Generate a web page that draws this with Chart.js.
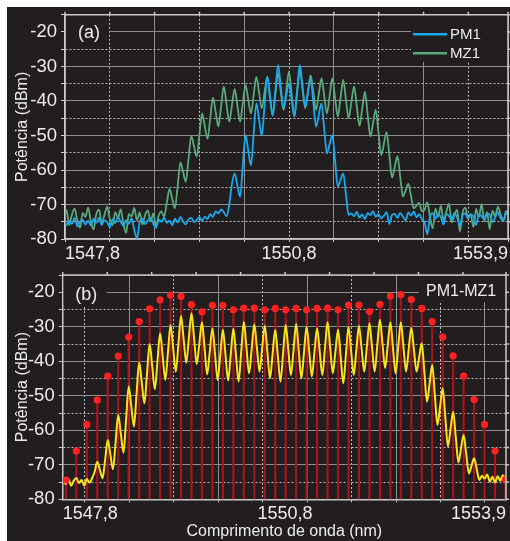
<!DOCTYPE html>
<html>
<head>
<meta charset="utf-8">
<script src="https://cdn.jsdelivr.net/npm/chart.js@4.4.1/dist/chart.umd.min.js"></script>
<style>
  html, body { margin: 0; padding: 0; background: #fff; }
  body { width: 510px; height: 541px; position: relative; overflow: hidden; }
  #panel { position: absolute; left: 7px; top: 7px; width: 503px; height: 534px; background: #221e1f; }
  canvas { position: absolute; left: 0; }
  #chart-a { top: 0; }
  #chart-b { top: 265px; }
</style>
</head>
<body>
<div id="panel"></div>
<canvas id="chart-a" width="510" height="265"></canvas>
<canvas id="chart-b" width="510" height="276"></canvas>
<script>
const FONT = "'Liberation Sans', Arial, Helvetica, sans-serif";
const BG = '#221e1f';
const TEXT = '#ececec';
const GRID_SOLID = '#8e8e8e';
const GRID_DOT = '#bdbdbd';
const FRAME = '#cacaca';

// OSA screen: start / centre / stop labels, 0.61 nm per division
const X_START = 1547.75;
const X_END_A = 1553.78;
const X_END_B = 1553.83;
const xGrid = [1547.75, 1548.36, 1548.97, 1549.58, 1550.19, 1550.80, 1551.41, 1552.02, 1552.63, 1553.24];
const xLabels = ['1547,8', '1550,8', '1553,9'];
const Y_MIN = -80;
const Y_MAX = -15;

// (a) traces, one sample every A_STEP nm starting at A_START
const A_START = 1547.6955;
const A_STEP = 0.036935;
const pm1 = [
  -75.2, -74.1, -76.0, -74.8, -75.6, -73.9, -76.3, -75.0, -74.4, -75.8,
  -74.7, -76.1, -74.2, -75.3, -73.8, -75.9, -74.6, -75.1, -76.6, -74.3,
  -75.4, -73.7, -75.0, -76.2, -74.5, -75.6, -74.0, -77.3, -79.8, -75.1,
  -74.2, -75.7, -74.6, -73.9, -75.5, -76.8, -74.4, -75.0, -73.8, -75.3,
  -74.7, -76.0, -74.1, -75.2, -73.6, -74.9, -75.8, -74.3, -73.9, -75.1,
  -74.5, -73.7, -74.8, -73.5, -74.2, -72.8, -73.6, -71.9, -72.6, -71.4,
  -72.2, -73.4, -70.0, -64.0, -61.0, -64.5, -67.8, -58.8, -49.9, -54.3,
  -58.6, -49.6, -40.7, -45.4, -50.0, -41.5, -32.9, -38.6, -44.3, -37.0,
  -29.6, -35.9, -42.1, -38.5, -34.9, -39.7, -44.5, -37.0, -29.6, -35.6,
  -41.6, -37.6, -33.5, -40.5, -47.4, -44.0, -40.7, -48.0, -55.2, -52.5,
  -49.9, -57.3, -64.8, -62.9, -61.0, -67.0, -73.0,
  -72.6, -73.4, -72.1, -73.8, -72.9, -74.2, -72.5, -73.1, -71.9, -73.6,
  -72.8, -74.0, -73.3, -72.2, -75.6, -73.0, -72.7, -73.9, -72.4, -73.5,
  -74.6, -72.3, -73.2, -72.0, -73.7, -72.8, -74.3, -75.2, -78.6, -73.4,
  -72.5, -74.1, -72.9, -73.6, -75.8, -72.7, -73.3, -74.5, -72.4, -73.8,
  -76.2, -73.1, -72.6, -74.0, -72.9, -73.5, -75.9, -72.8, -73.4, -74.3,
  -72.5, -73.0, -75.1, -73.7, -72.2, -73.9, -74.8, -72.6, -73.2,
];
const mz1 = [
  -72.5, -74.8, -71.6, -75.9, -73.0, -71.2, -74.5, -76.8, -72.4, -73.6,
  -70.9, -74.9, -77.2, -72.8, -71.5, -75.3, -73.1, -70.6, -74.2, -76.0,
  -72.2, -73.9, -71.4, -75.6, -78.2, -72.7, -73.5, -71.0, -74.6, -72.3,
  -75.8, -73.0, -71.7, -74.9, -72.6, -76.3, -73.2, -72.0,
  -73.5, -69.5, -65.5, -68.3, -71.1, -64.5, -57.8, -60.6, -63.4, -56.8,
  -50.1, -53.1, -56.1, -49.9, -43.6, -47.3, -51.0, -45.0, -39.0, -43.2,
  -47.4, -41.6, -35.8, -40.9, -46.0, -41.3, -36.5, -41.3, -46.0, -40.7,
  -35.4, -39.5, -43.6, -38.3, -33.0, -37.6, -42.1, -37.6, -33.0, -38.6,
  -44.1, -38.1, -32.0, -37.3, -42.6, -37.1, -31.5, -38.0, -44.5, -37.8,
  -31.0, -36.6, -42.1, -37.3, -32.5, -37.6, -42.6, -38.0, -33.4, -38.5,
  -43.6, -38.5, -33.4, -39.0, -44.5, -39.2, -33.9, -39.5, -45.0, -40.4,
  -35.8, -41.5, -47.2, -42.3, -37.3, -43.8, -50.3, -46.4, -42.5, -49.1,
  -55.7, -52.4, -49.0, -55.6, -62.2, -59.1, -56.0, -61.9, -67.7, -65.9,
  -64.0, -67.6, -71.1, -70.3, -69.5, -72.0,
  -71.5, -69.4, -73.8, -76.9, -71.2, -73.5, -70.4, -74.6, -72.1, -69.8,
  -75.2, -73.0, -71.6, -77.8, -72.4, -70.9, -74.1, -72.8, -76.5, -71.3,
  -73.6, -69.9, -74.8, -72.2, -77.2, -71.8, -73.4, -70.6, -72.9, -74.7,
  -71.9, -72.5,
];

// (b) combined trace, one sample every B_STEP nm starting at B_START
const B_START = 1547.7578;
const B_STEP = 0.03589;
const pm1mz1 = [
  -74.8, -75.6, -74.2, -76.1, -74.6, -73.8, -75.3, -74.4, -76.0, -74.1,
  -75.2, -73.9, -72.0, -69.1, -71.5, -73.9, -68.5, -62.8, -67.0, -71.3,
  -63.5, -55.6, -61.0, -66.5, -57.0, -47.3, -53.1, -58.9, -49.6, -40.3,
  -46.2, -52.2, -43.6, -35.0, -41.5, -48.1, -40.0, -31.9, -38.6, -45.4,
  -37.5, -29.5, -36.2, -43.0, -35.0, -26.9, -33.6, -40.4, -33.2, -26.1,
  -33.5, -40.8, -34.8, -28.7, -36.2, -43.8, -37.1, -30.4, -37.9, -45.4,
  -38.2, -30.9, -38.2, -45.6, -38.1, -30.6, -38.2, -45.9, -37.3, -28.6,
  -36.0, -43.5, -36.4, -29.3, -36.1, -43.0, -36.3, -29.7, -37.3, -44.9,
  -37.9, -30.9, -38.4, -45.9, -37.7, -29.5, -36.7, -44.0, -36.6, -29.2,
  -37.0, -44.9, -37.4, -30.0, -37.2, -44.4, -37.2, -30.4, -37.2, -44.0,
  -36.3, -28.7, -36.1, -43.5, -37.2, -30.9, -38.6, -46.4, -38.2, -30.0,
  -37.0, -44.0, -36.8, -29.7, -36.3, -43.0, -36.0, -29.0, -36.0, -43.0,
  -35.5, -28.0, -35.0, -42.0, -35.3, -28.7, -36.1, -43.5, -35.9, -28.7,
  -35.8, -43.0, -36.6, -30.2, -36.6, -43.0, -38.9, -34.8, -43.2, -51.7,
  -46.4, -41.1, -49.8, -58.5, -53.1, -47.8, -56.2, -64.7, -59.6, -54.6,
  -62.0, -69.3, -65.3, -61.4, -67.0, -72.5, -70.3, -68.1, -71.2, -74.4,
  -73.2, -74.0, -72.8, -74.9, -73.5, -75.1, -73.3, -74.6, -73.0, -74.2,
];

// (b) comb lines: wavelength (nm) and peak power (dBm)
const combWavelengths = [
  1547.794, 1547.937, 1548.081, 1548.224, 1548.368, 1548.512, 1548.655, 1548.799, 1548.942, 1549.086,
  1549.229, 1549.373, 1549.516, 1549.660, 1549.804, 1549.947, 1550.091, 1550.234, 1550.378, 1550.521,
  1550.665, 1550.808, 1550.952, 1551.096, 1551.239, 1551.383, 1551.526, 1551.670, 1551.813, 1551.957,
  1552.101, 1552.244, 1552.388, 1552.531, 1552.675, 1552.818, 1552.962, 1553.105, 1553.249, 1553.393,
  1553.536, 1553.680, 1553.823,
];
const combPowers = [
  -74.4, -66.0, -58.3, -51.2, -44.3, -38.5, -33.0, -28.5, -24.8, -22.2,
  -20.8, -21.2, -23.6, -25.7, -23.8, -23.8, -25.1, -24.6, -24.6, -25.1,
  -24.7, -25.1, -24.7, -25.1, -24.7, -24.6, -25.1, -23.7, -23.7, -25.6,
  -23.5, -21.1, -20.7, -22.1, -24.7, -28.5, -33.0, -38.4, -44.3, -51.1,
  -58.3, -66.0, -74.2,
];

const sampled = (start, step, values) => values.map((v, i) => ({ x: start + i * step, y: v }));

function xScale(max, height, withTitle) {
  return {
    type: 'linear',
    min: X_START,
    max,
    offset: false,
    afterBuildTicks: (scale) => {
      scale.ticks = [...xGrid, max].map((v) => ({ value: v }));
    },
    afterFit: (scale) => {
      scale.height = height;
      scale.paddingLeft = 0;
      scale.paddingRight = 0;
    },
    ticks: {
      autoSkip: false,
      maxRotation: 0,
      align: 'inner',
      padding: 1,
      color: TEXT,
      font: { family: FONT, size: 18 },
      callback: (value, index, ticks) => {
        if (index === 0) return xLabels[0];
        if (index === ticks.length - 1) return xLabels[2];
        if (Math.abs(value - 1550.8) < 1e-6) return xLabels[1];
        return '';
      },
    },
    grid: {
      color: (ctx) => (ctx.index % 2 ? GRID_DOT : GRID_SOLID),
      lineWidth: 1,
      tickLength: 3,
      tickColor: FRAME,
    },
    border: {
      color: FRAME,
      width: 1.5,
      dash: (ctx) => (ctx.tick && ctx.index % 2 ? [2, 2] : []),
    },
    title: {
      display: withTitle,
      text: 'Comprimento de onda (nm)',
      color: TEXT,
      font: { family: FONT, size: 16 },
      padding: { top: 0, bottom: 0 },
    },
  };
}

function yScale(width) {
  return {
    type: 'linear',
    min: Y_MIN,
    max: Y_MAX,
    afterFit: (scale) => {
      scale.width = width;
      scale.paddingTop = 0;
      scale.paddingBottom = 0;
    },
    ticks: {
      stepSize: 5,
      autoSkip: false,
      padding: 4,
      color: TEXT,
      font: { family: FONT, size: 18.5 },
      callback: (v) => (v % 10 === 0 ? String(v) : ''),
    },
    grid: {
      color: (ctx) => (ctx.tick && ctx.tick.value % 10 !== 0 ? GRID_DOT : GRID_SOLID),
      lineWidth: 1,
      tickLength: 4,
      tickColor: FRAME,
    },
    border: {
      color: FRAME,
      width: 1.5,
      dash: (ctx) => (ctx.tick && ctx.tick.value % 10 !== 0 ? [2, 2] : []),
    },
    title: {
      display: true,
      text: 'Potência (dBm)',
      color: TEXT,
      font: { family: FONT, size: 16 },
      padding: { top: 13, bottom: 0 },
    },
  };
}

// label boxes hide the grid, frame closes the plot on top and right
function decor(draw) {
  return {
    id: 'decor',
    beforeDatasetsDraw(chart) {
      const { ctx, chartArea: a } = chart;
      ctx.save();
      ctx.fillStyle = BG;
      for (const [x0, y0, x1, y1] of draw.boxes(a)) ctx.fillRect(x0, y0, x1 - x0, y1 - y0);
      ctx.restore();
    },
    afterDatasetsDraw(chart) {
      const { ctx, chartArea: a, scales } = chart;
      ctx.save();
      ctx.strokeStyle = FRAME;
      ctx.lineWidth = 1.5;
      ctx.beginPath();
      ctx.moveTo(a.left, a.top);
      ctx.lineTo(a.right, a.top);
      ctx.lineTo(a.right, a.bottom);
      for (const t of scales.x.ticks) {
        const px = scales.x.getPixelForValue(t.value);
        ctx.moveTo(px, a.top);
        ctx.lineTo(px, a.top - 3);
      }
      for (const t of scales.y.ticks) {
        const py = scales.y.getPixelForValue(t.value);
        ctx.moveTo(a.right, py);
        ctx.lineTo(a.right + 3, py);
      }
      ctx.stroke();
      draw.labels(ctx, a);
      ctx.restore();
    },
  };
}

function baseOptions(xMax, xHeight, withTitle, yWidth, padTop) {
  return {
    responsive: false,
    animation: false,
    events: [],
    layout: { padding: { top: padTop, right: 2, left: 0, bottom: 0 } },
    plugins: { legend: { display: false }, tooltip: { enabled: false } },
    scales: { x: xScale(xMax, xHeight, withTitle), y: yScale(yWidth) },
  };
}

const lineStyle = {
  pointRadius: 0,
  borderWidth: 1.8,
  fill: false,
  cubicInterpolationMode: 'monotone',
  borderJoinStyle: 'round',
};

new Chart(document.getElementById('chart-a'), {
  type: 'line',
  data: {
    datasets: [
      { label: 'PM1', data: sampled(A_START, A_STEP, pm1), borderColor: '#1aa9ee', order: 0, ...lineStyle },
      { label: 'MZ1', data: sampled(A_START, A_STEP, mz1), borderColor: '#5aa97c', order: 1, ...lineStyle },
    ],
  },
  options: baseOptions(X_END_A, 26, false, 65, 14.75),
  plugins: [decor({
    boxes: (a) => [[a.left + 1, a.top + 1, a.left + 44, a.top + 30], [a.right - 97, a.top + 1, a.right - 1, a.top + 47]],
    labels: (ctx, a) => {
      ctx.fillStyle = TEXT;
      ctx.font = `18px ${FONT}`;
      ctx.textAlign = 'center';
      ctx.textBaseline = 'middle';
      ctx.fillText('(a)', a.left + 24, a.top + 18);
      ctx.lineWidth = 2.6;
      ctx.strokeStyle = '#1aa9ee';
      ctx.beginPath();
      ctx.moveTo(a.right - 95, a.top + 19.5);
      ctx.lineTo(a.right - 61, a.top + 19.5);
      ctx.stroke();
      ctx.strokeStyle = '#5aa97c';
      ctx.beginPath();
      ctx.moveTo(a.right - 95, a.top + 38.5);
      ctx.lineTo(a.right - 61, a.top + 38.5);
      ctx.stroke();
      ctx.font = `15px ${FONT}`;
      ctx.textAlign = 'left';
      ctx.fillText('PM1', a.right - 58, a.top + 20);
      ctx.fillText('MZ1', a.right - 58, a.top + 39);
    },
  })],
});

new Chart(document.getElementById('chart-b'), {
  type: 'line',
  data: {
    datasets: [
      {
        type: 'scatter',
        label: 'comb',
        data: combWavelengths.map((x, i) => ({ x, y: combPowers[i] })),
        showLine: false,
        pointRadius: 3.6,
        pointBackgroundColor: '#ff2020',
        pointBorderWidth: 0,
        order: 0,
      },
      { label: 'PM1-MZ1', data: sampled(B_START, B_STEP, pm1mz1), borderColor: '#fbe31c', order: 1, ...lineStyle, borderWidth: 2 },
      {
        type: 'bar',
        label: 'stems',
        data: combWavelengths.map((x, i) => ({ x, y: [Y_MIN, combPowers[i]] })),
        backgroundColor: '#a8141c',
        borderWidth: 0,
        barThickness: 1.5,
        grouped: false,
        order: 2,
      },
    ],
  },
  options: baseOptions(X_END_B, 41.7, true, 62.7, 10),
  plugins: [decor({
    boxes: (a) => [[a.left + 1, a.top + 1, a.left + 44, a.top + 30], [a.right - 87, a.top + 1, a.right - 1, a.top + 27]],
    labels: (ctx, a) => {
      ctx.fillStyle = TEXT;
      ctx.font = `18px ${FONT}`;
      ctx.textAlign = 'center';
      ctx.textBaseline = 'middle';
      ctx.fillText('(b)', a.left + 23.5, a.top + 20);
      ctx.font = `16px ${FONT}`;
      ctx.textAlign = 'left';
      ctx.fillText('PM1-MZ1', a.right - 80, a.top + 16.5);
    },
  })],
});
</script>
</body>
</html>
